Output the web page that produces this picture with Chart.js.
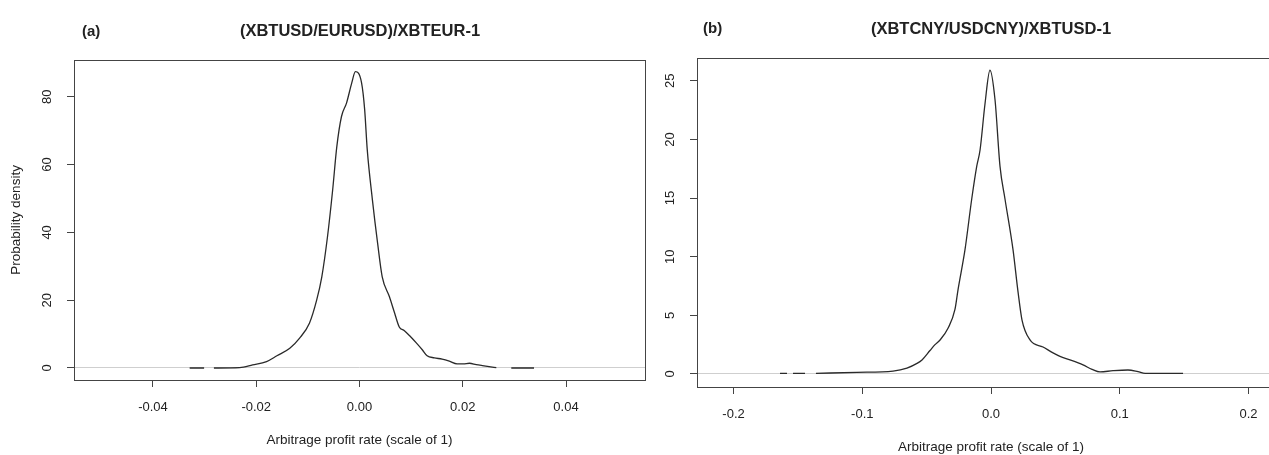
<!DOCTYPE html>
<html>
<head>
<meta charset="utf-8">
<script src="https://cdn.jsdelivr.net/npm/chart.js@4.4.1/dist/chart.umd.min.js"></script>
<style>
  html, body { margin: 0; padding: 0; background: #fff; overflow: hidden; width: 1269px; height: 455px; }
  canvas { position: absolute; top: 0; }
  #chartA { left: 0; }
  #chartB { left: 650px; }
</style>
</head>
<body>
<canvas id="chartA" width="720" height="455"></canvas>
<canvas id="chartB" width="682" height="455"></canvas>
<script>
// Panel (a): (XBTUSD/EURUSD)/XBTEUR-1, null = gap in the drawn curve
const rateA = [
  -0.0329, -0.0301, -0.0292, -0.0282, -0.0232, -0.0207, -0.018, -0.016,
  -0.0135, -0.0116, -0.0097, -0.0083, -0.0073, -0.0062, -0.0052, -0.0044,
  -0.0035, -0.0025, -0.0015, -0.0008, 0.0004, 0.001, 0.0015, 0.0025, 0.0035,
  0.0044, 0.0058, 0.0068, 0.0077, 0.0087, 0.0099, 0.011, 0.0122, 0.0131,
  0.0145, 0.016, 0.0174, 0.0189, 0.0201, 0.0213, 0.0226, 0.0238, 0.0251,
  0.0265, 0.028, 0.0294, 0.0338,
];
const densityA = [
  0, 0, null, 0, 0.1, 0.9, 1.9, 3.6, 5.8, 8.8, 13.2, 20, 26.9, 38.7, 52.5,
  65.2, 74.1, 78.2, 84.1, 87.4, 84.1, 76.2, 64.4, 49.6, 36.9, 26.9, 21, 16.2,
  12.1, 11.0, 9.2, 7.4, 5.3, 3.6, 3.0, 2.6, 2.0, 1.2, 1.2, 1.4, 1.0, 0.7, 0.4,
  0.1, null, 0, 0,
];
const xTicksA = [-0.04, -0.02, 0, 0.02, 0.04];
const yTicksA = [0, 20, 40, 60, 80];

// Panel (b): (XBTCNY/USDCNY)/XBTUSD-1
const rateB = [
  -0.1639, -0.1585, -0.156, -0.1538, -0.1445, -0.14, -0.136, -0.1041, -0.0761,
  -0.0653, -0.0575, -0.0536, -0.0474, -0.0435, -0.0396, -0.0334, -0.028,
  -0.0256, -0.0202, -0.015, -0.0111, -0.0085, -0.0047, -0.0008, 0.0031, 0.007,
  0.0109, 0.0171, 0.021, 0.0241, 0.0303, 0.0404, 0.0482, 0.0536, 0.0614,
  0.0715, 0.0785, 0.0847, 0.0948, 0.1064, 0.1142, 0.1197, 0.1492,
];
const densityB = [
  0.05, 0.05, null, 0.05, 0.05, null, 0.05, 0.14, 0.25, 0.5, 0.9, 1.2, 2.0,
  2.5, 2.9, 3.9, 5.5, 7.2, 10.6, 14.9, 17.7, 19.1, 23.0, 25.9, 23.4, 17.7,
  14.9, 10.6, 7.0, 4.6, 2.9, 2.3, 1.8, 1.5, 1.2, 0.77, 0.4, 0.18, 0.28, 0.34,
  0.2, 0.06, 0.06,
];
const xTicksB = [-0.2, -0.1, 0, 0.1, 0.2];
const yTicksB = [0, 5, 10, 15, 20, 25];

const FONT = "'Liberation Sans', Arial, sans-serif";
const INK = "#222";

// Draws the box around the plot region (like R's box())
const framePlugin = {
  id: "frame",
  afterDraw(chart) {
    const a = chart.chartArea;
    const ctx = chart.ctx;
    ctx.save();
    ctx.strokeStyle = "#444";
    ctx.lineWidth = 1;
    ctx.strokeRect(
      Math.round(a.left) + 0.5,
      Math.round(a.top) + 0.5,
      Math.round(a.right - a.left),
      Math.round(a.bottom - a.top)
    );
    ctx.restore();
  },
};

// Panel letter "(a)" / "(b)" in the top left
const letterPlugin = {
  id: "panelLetter",
  afterDraw(chart, args, opts) {
    const ctx = chart.ctx;
    ctx.save();
    ctx.font = "bold 15px " + FONT;
    ctx.fillStyle = INK;
    ctx.textBaseline = "middle";
    ctx.fillText(opts.text, opts.x, opts.y);
    ctx.restore();
  },
};

function buildPanel(canvasId, p) {
  const points = p.rates.map((r, i) => ({ x: r, y: p.density[i] }));

  return new Chart(document.getElementById(canvasId), {
    type: "line",
    data: {
      datasets: [
        {
          data: points,
          borderColor: "#2a2a2a",
          borderWidth: 1.3,
          pointRadius: 0,
          cubicInterpolationMode: "monotone",
          spanGaps: false,
          fill: false,
        },
      ],
    },
    options: {
      responsive: false,
      animation: false,
      layout: { padding: 0 },
      plugins: {
        legend: { display: false },
        tooltip: { enabled: false },
        title: {
          display: true,
          text: p.title,
          color: INK,
          font: { family: FONT, size: 16.5, weight: "bold" },
          padding: { top: p.titleTop, bottom: p.titleBottom },
        },
        panelLetter: { text: p.letter, x: p.letterX, y: p.letterY },
      },
      scales: {
        x: {
          type: "linear",
          min: p.xMin,
          max: p.xMax,
          afterBuildTicks: (s) => {
            s.ticks = p.xTicks.map((v) => ({ value: v }));
          },
          afterFit: (s) => {
            s.height = p.xAxisHeight;
          },
          ticks: {
            color: INK,
            font: { family: FONT, size: 13 },
            padding: 13,
            maxRotation: 0,
            callback: (v) => Number(v).toFixed(p.xDigits),
          },
          grid: { drawOnChartArea: false, tickLength: 7, tickColor: "#444" },
          border: { display: false },
          title: {
            display: true,
            text: "Arbitrage profit rate (scale of 1)",
            color: INK,
            font: { family: FONT, size: 13.5 },
            padding: { top: 0, bottom: p.xTitleBottom },
          },
        },
        y: {
          type: "linear",
          min: p.yMin,
          max: p.yMax,
          afterBuildTicks: (s) => {
            s.ticks = p.yTicks.map((v) => ({ value: v }));
          },
          afterFit: (s) => {
            s.width = p.yAxisWidth;
          },
          ticks: {
            color: INK,
            font: { family: FONT, size: 13 },
            minRotation: 90,
            maxRotation: 90,
            crossAlign: "center",
            padding: 12,
          },
          grid: {
            // only the grey zero line inside the plot
            color: (c) => (c.tick && c.tick.value === 0 ? "#cfcfcf" : "rgba(0,0,0,0)"),
            tickLength: 7,
            tickColor: "#444",
          },
          border: { display: false },
          title: {
            display: !!p.yTitle,
            text: p.yTitle || "",
            color: INK,
            font: { family: FONT, size: 13.5 },
            padding: { top: 8, bottom: 0 },
          },
        },
        // empty right-hand margin so the title stays centred over the plot
        yRight: {
          position: "right",
          display: true,
          afterFit: (s) => {
            s.width = p.rightMargin;
          },
          ticks: { display: false },
          grid: { display: false },
          border: { display: false },
        },
      },
    },
    plugins: [framePlugin, letterPlugin],
  });
}

buildPanel("chartA", {
  rates: rateA,
  density: densityA,
  xTicks: xTicksA,
  yTicks: yTicksA,
  xDigits: 2,
  xMin: -0.0553,
  xMax: 0.0553,
  yMin: -3.54,
  yMax: 90.9,
  title: "(XBTUSD/EURUSD)/XBTEUR-1",
  letter: "(a)",
  letterX: 82,
  letterY: 32,
  titleTop: 22,
  titleBottom: 18,
  rightMargin: 75,
  xAxisHeight: 75,
  yAxisWidth: 74,
  xTitleBottom: 7,
  yTitle: "Probability density",
});

buildPanel("chartB", {
  rates: rateB,
  density: densityB,
  xTicks: xTicksB,
  yTicks: yTicksB,
  xDigits: 1,
  xMin: -0.2284,
  xMax: 0.2284,
  yMin: -1.11,
  yMax: 26.96,
  title: "(XBTCNY/USDCNY)/XBTUSD-1",
  letter: "(b)",
  letterX: 53,
  letterY: 29,
  titleTop: 20,
  titleBottom: 18,
  rightMargin: 47,
  xAxisHeight: 68,
  yAxisWidth: 47,
  xTitleBottom: 0,
  yTitle: null,
});
</script>
</body>
</html>
